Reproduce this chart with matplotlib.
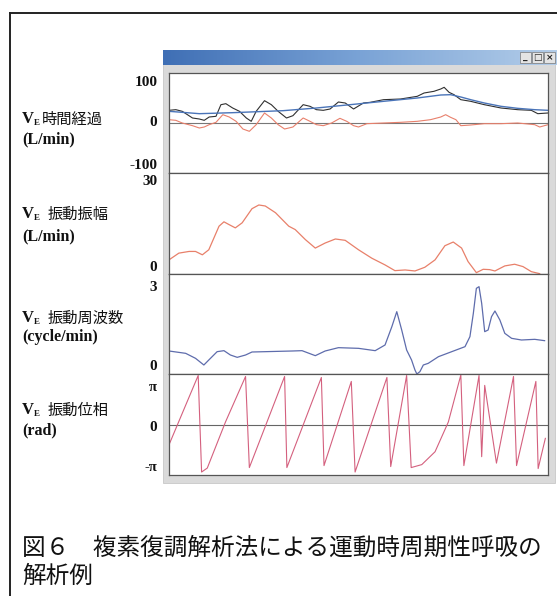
import matplotlib
matplotlib.use("Agg")
import matplotlib.pyplot as plt
import numpy as np
from matplotlib.patches import Rectangle
from matplotlib.lines import Line2D
from matplotlib.colors import LinearSegmentedColormap

# ---------------- data (x = percent of record) ----------------
raw_x = [0.0, 1.8, 3.5, 6.2, 8.0, 9.3, 10.6, 12.4, 13.7, 15.0, 16.8, 18.6, 20.4, 21.7, 23.0,
         25.2, 27.0, 28.8, 31.0, 32.7, 35.4, 37.2, 38.9, 40.7, 42.5, 44.7, 46.5, 48.7, 51.3,
         53.1, 56.6, 61.1, 65.5, 67.3, 69.9, 71.7, 72.6, 73.9, 75.2, 77.0, 79.6, 83.2, 87.6,
         92.0, 95.6, 97.3, 100.0]
raw_v = [31.7, 33.3, 29.2, 12.5, 10.0, 6.7, 15.0, 16.7, 45.8, 48.3, 37.5, 29.2, 12.5, 4.2, 29.2,
         55.8, 45.8, 29.2, 12.5, 18.3, 45.8, 41.7, 33.3, 31.7, 35.0, 52.5, 50.0, 35.0, 50.0,
         51.7, 58.3, 60.0, 66.7, 75.0, 79.2, 85.0, 89.2, 76.7, 70.8, 58.3, 54.2, 45.8, 37.5,
         33.3, 31.7, 23.3, 25.0]

trend_x = [0, 3.5, 8.0, 16.8, 30.1, 38.9, 47.8, 56.6, 65.5, 71.7, 74.3, 77.0, 79.6, 83.2,
           87.6, 92.0, 96.5, 100]
trend_v = [29.2, 26.7, 23.3, 25.8, 30.8, 37.5, 45.8, 54.2, 62.5, 70.0, 70.8, 65.0, 58.3, 50.0,
           41.7, 36.7, 33.3, 31.7]

osc_x = [0, 1.8, 3.5, 6.2, 8.0, 9.3, 10.6, 12.4, 14.2, 15.9, 17.7, 19.5, 21.2, 23.0, 25.2,
         27.0, 28.8, 30.5, 32.7, 35.4, 37.2, 38.9, 40.7, 42.9, 45.1, 46.9, 48.7, 50.0, 52.2,
         56.6, 61.1, 65.5, 69.0, 71.7, 73.0, 74.3, 75.7, 77.0, 79.6, 83.2, 87.6, 92.0, 96.5,
         97.8, 100]
osc_v = [8.3, 6.7, 0, -6.7, -12.5, -10.0, -4.2, 1.7, 20.8, 15.0, 4.2, -15.0, -20.8, -4.2, 25.0,
         12.5, -4.2, -15.0, -10.0, 12.5, 4.2, -4.2, -6.7, 0, 11.7, 4.2, -6.7, -10.0, -1.7,
         0, 1.7, 4.2, 8.3, 15.0, 20.8, 14.2, 8.3, -6.7, -5.0, -1.7, -1.7, 0, -4.2,
         -10.0, -4.2]

amp_x = [0, 2.6, 5.3, 7.0, 8.8, 10.5, 13.2, 14.5, 15.8, 17.5, 19.3, 21.9, 23.7, 25.4, 28.1,
         31.6, 33.3, 36.0, 38.6, 41.2, 43.9, 46.5, 50.0, 53.5, 57.0, 59.6, 62.3, 64.9, 67.5,
         70.2, 72.8, 75.0, 77.2, 78.9, 81.1, 82.9, 84.6, 86.0, 88.6, 91.2, 93.4, 95.6, 97.8]
amp_v = [4.2, 6.2, 6.7, 6.7, 5.7, 7.2, 14.2, 15.5, 14.7, 13.7, 15.2, 19.4, 20.5, 20.2, 18.2,
         14.2, 13.2, 10.2, 7.7, 9.2, 10.4, 10.0, 7.2, 4.7, 2.7, 1.0, 1.2, 0.9, 2.0,
         4.2, 8.4, 9.5, 7.7, 3.7, 0.4, 1.4, 1.3, 0.9, 2.4, 2.9, 2.2, 0.7, 0.1]

freq_x = [0, 4.4, 7.0, 9.2, 10.5, 12.7, 14.5, 16.2, 18.0, 20.2, 21.9, 25.4, 32.5, 35.1, 38.6,
          41.2, 44.7, 50.0, 54.4, 57.0, 58.8, 60.1, 61.4, 62.7, 64.0, 64.9, 65.4, 66.2, 67.1,
          68.4, 71.1, 74.6, 78.1, 79.4, 80.3, 81.1, 81.8, 82.5, 83.3, 84.2, 85.1, 86.0, 87.3,
          88.6, 90.4, 93.0, 96.5, 99.1]
freq_v = [0.69, 0.62, 0.47, 0.27, 0.42, 0.67, 0.70, 0.57, 0.50, 0.57, 0.66, 0.67, 0.69, 0.70, 0.55,
          0.69, 0.79, 0.77, 0.70, 0.87, 1.42, 1.87, 1.32, 0.72, 0.42, 0.12, 0.0, 0.07, 0.27,
          0.32, 0.52, 0.67, 0.82, 1.12, 1.82, 2.57, 2.62, 2.12, 1.27, 1.32, 1.72, 1.89, 1.62,
          1.22, 1.07, 1.02, 1.04, 1.00]

phase_x = [0, 7.7, 8.6, 10.1, 14.9, 20.2, 21.2, 30.5, 31.1, 40.2, 40.9, 48.1, 49.1, 57.5, 58.5,
           62.7, 63.9, 66.7, 70.2, 73.7, 77.0, 77.8, 81.8, 82.5, 83.3, 86.4, 90.9, 91.7, 96.8,
           97.4, 99.3]
phase_v_pi = [-0.41, 0.99, -0.96, -0.88, 0.05, 0.97, -0.87, 0.97, -0.87, 0.95, -0.83, 0.87, -0.96,
              0.95, -0.85, 0.99, -0.87, -0.81, -0.55, 0.05, 1.0, -0.83, 0.99, -0.65, 0.79, -0.78,
              0.97, -0.83, 0.87, -0.89, -0.28]

row_titles = ["時間経過", "振動振幅", "振動周波数", "振動位相"]
row_units = ["(L/min)", "(L/min)", "(cycle/min)", "(rad)"]
tick_labels = [["100", "0", "-100"], ["30", "0"], ["3", "0"], ["π", "0", "-π"]]
caption_lines = ["図６　複素復調解析法による運動時周期性呼吸の", "解析例"]

# ---------------- layout helpers ----------------
W, H = 557, 596
fig = plt.figure(figsize=(W / 100, H / 100), dpi=100)
fig.patch.set_facecolor("white")

def fx(px):
    return px / W

def fy(py):
    return 1 - py / H

CJK = ["Noto Sans CJK JP", "DejaVu Sans"]
SERIF = ["Liberation Serif", "DejaVu Serif"]

# outer frame
fig.add_artist(Line2D([fx(10), fx(10)], [fy(13), fy(600)], color="#222222", lw=1.4))
fig.add_artist(Line2D([fx(10), fx(560)], [fy(13), fy(13)], color="#222222", lw=1.4))

# window background
fig.add_artist(Rectangle((fx(163), fy(483)), fx(555) - fx(163), fy(50) - fy(483),
                         facecolor="#dadada", edgecolor="#c8c8c8", lw=0.6, zorder=0))

# title bar gradient
tb = fig.add_axes([fx(163), fy(65), fx(557) - fx(163), fy(50) - fy(65)])
grad = np.linspace(0, 1, 256)[None, :]
cm_tb = LinearSegmentedColormap.from_list("tb", ["#3f6fb5", "#7aa3d6", "#b3cde9"])
tb.imshow(grad, aspect="auto", cmap=cm_tb, extent=[0, 1, 0, 1])
tb.set_xlim(0, 1); tb.set_ylim(0, 1)
tb.axis("off")
for i, sym in enumerate(["_", "□", "×"]):
    x0 = 0.905 + i * 0.031
    tb.add_patch(Rectangle((x0, 0.12), 0.028, 0.76, facecolor="#e4e4e4",
                           edgecolor="#777777", lw=0.5, transform=tb.transAxes))
    tb.text(x0 + 0.014, 0.48, sym, ha="center", va="center", fontsize=6.5,
            color="#222222", fontweight="bold", transform=tb.transAxes)

# panels
tops = [73, 173, 274, 374]
bots = [173, 274, 374, 475]
left_px, right_px = 169, 548
axes = []
for t, b in zip(tops, bots):
    ax = fig.add_axes([fx(left_px), fy(b), fx(right_px) - fx(left_px), fy(t) - fy(b)])
    ax.set_facecolor("white")
    ax.set_xlim(0, 100)
    ax.set_xticks([]); ax.set_yticks([])
    for s in ax.spines.values():
        s.set_color("#555555"); s.set_linewidth(0.9)
    axes.append(ax)

# panel 1: VE time course
ax = axes[0]
ax.set_ylim(-125, 125)
ax.axhline(0, color="#777777", lw=0.8)
ax.plot(osc_x, osc_v, color="#e8806c", lw=0.8)
ax.plot(raw_x, raw_v, color="#303030", lw=0.8)
ax.plot(trend_x, trend_v, color="#4a74b8", lw=1.0)

# panel 2: amplitude
ax = axes[1]
ax.set_ylim(0, 30)
ax.plot(amp_x, amp_v, color="#e8806a", lw=0.9)

# panel 3: frequency
ax = axes[2]
ax.set_ylim(0, 3)
ax.plot(freq_x, freq_v, color="#5e6cac", lw=0.9)

# panel 4: phase
ax = axes[3]
ax.set_ylim(-np.pi * 1.02, np.pi * 1.02)
ax.axhline(0, color="#666666", lw=0.8)
ax.plot(phase_x, np.array(phase_v_pi) * np.pi, color="#d4607e", lw=0.8)

# tick labels (placed at inset positions like the reference)
tick_fracs = [[0.91, 0.5, 0.07], [0.92, 0.06], [0.87, 0.07], [0.87, 0.475, 0.07]]
for ax, labs, fr in zip(axes, tick_labels, tick_fracs):
    for lab, f in zip(labs, fr):
        ax.text(-0.031, f, lab, transform=ax.transAxes, ha="right", va="center",
                fontsize=11 if "π" not in lab else 10.5, fontweight="bold", family=SERIF,
                color="#111111")

# row labels
title_y = [119, 214, 318, 410]
unit_y = [139, 236, 337, 430]
cjk_x = [42, 48, 48, 48]
for ttl, unit, ty, uy, cx in zip(row_titles, row_units, title_y, unit_y, cjk_x):
    fig.text(fx(22), fy(ty), "V", ha="left", va="center", fontsize=12, fontweight="bold",
             family=SERIF, color="#111111")
    fig.text(fx(34), fy(ty + 4), "E", ha="left", va="center", fontsize=6.5, fontweight="bold",
             family=SERIF, color="#111111")
    fig.text(fx(cx), fy(ty), ttl, ha="left", va="center", fontsize=11, family=CJK,
             color="#111111")
    fig.text(fx(22), fy(uy), unit, ha="left", va="center", fontsize=11.5, fontweight="bold",
             family=SERIF, color="#111111")

# caption
fig.text(fx(22), fy(548), caption_lines[0], ha="left", va="center", fontsize=17,
         family=CJK, color="#111111")
fig.text(fx(22), fy(576), caption_lines[1], ha="left", va="center", fontsize=17,
         family=CJK, color="#111111")

fig.savefig("out.png", dpi=100, facecolor="white")
